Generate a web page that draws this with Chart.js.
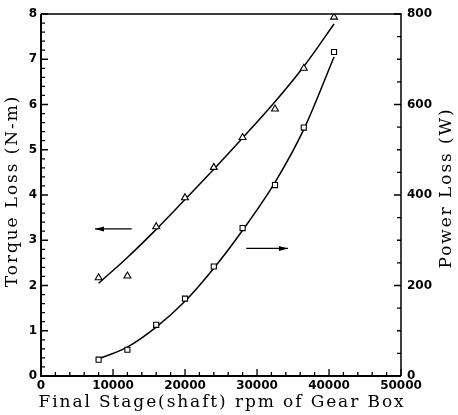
<!DOCTYPE html>
<html>
<head>
<meta charset="utf-8">
<script src="https://cdn.jsdelivr.net/npm/chart.js@4"></script>
<style>
  html, body { margin: 0; padding: 0; background: #fff; }
  #wrap { width: 458px; height: 415px; }
</style>
</head>
<body>
<div id="wrap"><canvas id="gearChart" width="458" height="415"></canvas></div>
<script>
// measured points
const rpm = [8000, 12000, 16000, 20000, 24000, 28000, 32500, 36500, 40700];
const torque = [2.17, 2.21, 3.30, 3.94, 4.61, 5.27, 5.90, 6.80, 7.93];
const power = [36, 58, 113, 171, 242, 327, 422, 549, 716];

// fitted curves
const fitRpm = [8000, 12000, 16000, 20000, 24000, 28000, 32500, 36500, 40700];
const torqueFit = [2.05, 2.62, 3.24, 3.9, 4.57, 5.26, 6.06, 6.84, 7.78];
const powerFit = [38, 64, 108, 165, 238, 322, 428, 545, 705];

// arrows telling which axis each curve uses
const torqueArrow = { from: 12600, to: 7500, y: 3.25 };
const powerArrow = { from: 28500, to: 34300, y: 282 };

const xTitle = 'Final Stage(shaft) rpm of Gear Box';
const yTitle = 'Torque Loss (N-m)';
const y2Title = 'Power Loss (W)';

const toXY = (xs, ys) => xs.map((x, i) => ({ x: x, y: ys[i] }));

const tickFont = { family: 'DejaVu Sans', size: 12, weight: 'bold' };

// frame, inward ticks, arrows and titles
const framePlugin = {
    id: 'frame',
    afterDraw(chart) {
        const ctx = chart.ctx;
        const a = chart.chartArea;
        const sx = chart.scales.x, sy = chart.scales.y, sy2 = chart.scales.y2;
        ctx.save();
        ctx.strokeStyle = '#000';

        // box
        ctx.lineWidth = 2;
        ctx.beginPath();
        ctx.moveTo(a.left, a.top);
        ctx.lineTo(a.left, a.bottom);
        ctx.lineTo(a.right, a.bottom);
        ctx.stroke();
        ctx.lineWidth = 1.5;
        ctx.beginPath();
        ctx.moveTo(a.left, a.top);
        ctx.lineTo(a.right, a.top);
        ctx.lineTo(a.right, a.bottom);
        ctx.stroke();

        // ticks pointing into the plot
        ctx.lineWidth = 1.3;
        ctx.beginPath();
        sx.ticks.forEach(t => {
            const px = sx.getPixelForValue(t.value);
            const len = t.value % 10000 === 0 ? 7 : 4;
            ctx.moveTo(px, a.bottom);
            ctx.lineTo(px, a.bottom - len);
        });
        sy.ticks.forEach(t => {
            const py = sy.getPixelForValue(t.value);
            const len = Math.abs(t.value - Math.round(t.value)) < 1e-6 ? 7 : 4;
            ctx.moveTo(a.left, py);
            ctx.lineTo(a.left + len, py);
        });
        sy2.ticks.forEach(t => {
            const py = sy2.getPixelForValue(t.value);
            const len = t.value % 200 === 0 ? 7 : 4;
            ctx.moveTo(a.right, py);
            ctx.lineTo(a.right - len, py);
        });
        ctx.stroke();

        // arrows
        const arrow = (x1, x2, py) => {
            const p1 = sx.getPixelForValue(x1), p2 = sx.getPixelForValue(x2);
            const dir = p2 > p1 ? 1 : -1;
            ctx.lineWidth = 1.3;
            ctx.beginPath();
            ctx.moveTo(p1, py);
            ctx.lineTo(p2, py);
            ctx.stroke();
            ctx.beginPath();
            ctx.moveTo(p2, py);
            ctx.lineTo(p2 - dir * 9, py - 2.5);
            ctx.lineTo(p2 - dir * 9, py + 2.5);
            ctx.closePath();
            ctx.fillStyle = '#000';
            ctx.fill();
        };
        arrow(torqueArrow.from, torqueArrow.to, sy.getPixelForValue(torqueArrow.y));
        arrow(powerArrow.from, powerArrow.to, sy2.getPixelForValue(powerArrow.y));

        // axis titles
        ctx.fillStyle = '#000';
        ctx.font = '17px "DejaVu Serif"';
        ctx.textAlign = 'center';
        ctx.textBaseline = 'middle';
        ctx.letterSpacing = '1.9px';
        ctx.fillText(xTitle, (a.left + a.right) / 2 + 1, 403);

        ctx.save();
        ctx.translate(13, 191);
        ctx.rotate(-Math.PI / 2);
        ctx.fillText(yTitle, 0, 0);
        ctx.restore();

        ctx.save();
        ctx.translate(447, 188);
        ctx.rotate(-Math.PI / 2);
        ctx.fillText(y2Title, 0, 0);
        ctx.restore();

        ctx.restore();
    }
};

new Chart(document.getElementById('gearChart'), {
    type: 'scatter',
    data: {
        datasets: [
            {
                label: 'Torque',
                data: toXY(rpm, torque),
                yAxisID: 'y',
                pointStyle: 'triangle',
                pointRadius: 4,
                borderColor: '#000',
                backgroundColor: '#fff',
                borderWidth: 1.1
            },
            {
                label: 'Power',
                data: toXY(rpm, power),
                yAxisID: 'y2',
                pointStyle: 'rect',
                pointRadius: 3.6,
                borderColor: '#000',
                backgroundColor: '#fff',
                borderWidth: 1.1
            },
            {
                label: 'Torque fit',
                data: toXY(fitRpm, torqueFit),
                yAxisID: 'y',
                showLine: true,
                pointRadius: 0,
                borderColor: '#000',
                borderWidth: 1.5,
                cubicInterpolationMode: 'monotone'
            },
            {
                label: 'Power fit',
                data: toXY(fitRpm, powerFit),
                yAxisID: 'y2',
                showLine: true,
                pointRadius: 0,
                borderColor: '#000',
                borderWidth: 1.5,
                cubicInterpolationMode: 'monotone'
            }
        ]
    },
    options: {
        responsive: false,
        animation: false,
        layout: { padding: { top: 14, left: 0, right: 0, bottom: 0 } },
        plugins: {
            legend: { display: false },
            tooltip: { enabled: false }
        },
        scales: {
            x: {
                type: 'linear',
                min: 0,
                max: 50000,
                grid: { display: false, drawTicks: false },
                border: { display: false },
                ticks: {
                    stepSize: 2000,
                    autoSkip: false,
                    maxRotation: 0,
                    padding: 3,
                    color: '#000',
                    font: tickFont,
                    callback: v => (v % 10000 === 0 ? String(v) : '')
                },
                afterFit: s => { s.height = 39; }
            },
            y: {
                position: 'left',
                min: 0,
                max: 8,
                grid: { display: false, drawTicks: false },
                border: { display: false },
                ticks: {
                    stepSize: 0.2,
                    autoSkip: false,
                    padding: 4,
                    color: '#000',
                    font: tickFont,
                    callback: v => (Math.abs(v - Math.round(v)) < 1e-6 ? String(Math.round(v)) : '')
                },
                afterFit: s => { s.width = 41; }
            },
            y2: {
                position: 'right',
                min: 0,
                max: 800,
                grid: { display: false, drawTicks: false },
                border: { display: false },
                ticks: {
                    stepSize: 50,
                    autoSkip: false,
                    padding: 6,
                    color: '#000',
                    font: tickFont,
                    callback: v => (v % 200 === 0 ? String(v) : '')
                },
                afterFit: s => { s.width = 57; }
            }
        }
    },
    plugins: [framePlugin]
});
</script>
</body>
</html>
